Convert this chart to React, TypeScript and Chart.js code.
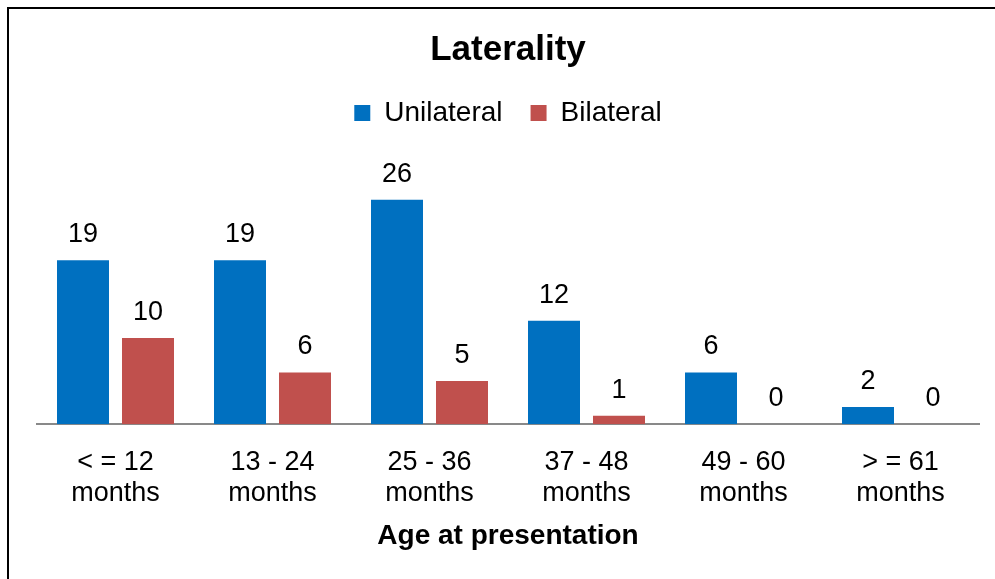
import React, { useEffect, useRef } from "react";
import { Chart, registerables } from "chart.js";

Chart.register(...registerables);

const categories: string[][] = [
  ["< = 12", "months"],
  ["13 - 24", "months"],
  ["25 - 36", "months"],
  ["37 - 48", "months"],
  ["49 - 60", "months"],
  ["> = 61", "months"],
];
const unilateral: number[] = [19, 19, 26, 12, 6, 2];
const bilateral: number[] = [10, 6, 5, 1, 0, 0];
const seriesNames: string[] = ["Unilateral", "Bilateral"];
const titleText = "Laterality";
const xAxisTitle = "Age at presentation";

const FONT = "'Liberation Sans', Arial, sans-serif";

const valueLabels = {
  id: "valueLabels",
  afterDatasetsDraw(chart: any) {
    const ctx = chart.ctx;
    ctx.save();
    ctx.font = `27px ${FONT}`;
    ctx.fillStyle = "#000";
    ctx.textAlign = "center";
    ctx.textBaseline = "alphabetic";
    chart.data.datasets.forEach((ds: any, i: number) => {
      const meta = chart.getDatasetMeta(i);
      meta.data.forEach((el: any, j: number) => {
        ctx.fillText(String(ds.data[j]), el.x, el.y - 18);
      });
    });
    ctx.restore();
  },
};

export default function App() {
  const ref = useRef<HTMLCanvasElement | null>(null);
  useEffect(() => {
    if (!ref.current) return;
    const chart = new Chart(ref.current, {
      type: "bar",
      data: {
        labels: categories,
        datasets: [
          {
            label: seriesNames[0],
            data: unilateral,
            backgroundColor: "#0070C0",
            categoryPercentage: 0.828,
            barPercentage: 0.8,
          },
          {
            label: seriesNames[1],
            data: bilateral,
            backgroundColor: "#C0504D",
            categoryPercentage: 0.828,
            barPercentage: 0.8,
          },
        ],
      },
      options: {
        responsive: false,
        animation: false,
        devicePixelRatio: 1,
        layout: { padding: { left: 28, right: 16, top: 8, bottom: 26 } },
        plugins: {
          title: {
            display: true,
            text: titleText,
            color: "#000",
            font: { family: FONT, size: 35, weight: "bold", lineHeight: 1.2 },
            padding: { top: 12, bottom: 0 },
          },
          legend: {
            display: true,
            labels: {
              color: "#000",
              font: { family: FONT, size: 28 },
              boxWidth: 16,
              boxHeight: 16,
              padding: 28,
            },
          },
          tooltip: { enabled: false },
        },
        scales: {
          x: {
            grid: { display: false, drawTicks: false },
            border: { display: true, color: "#898989", width: 2 },
            ticks: {
              color: "#000",
              font: { family: FONT, size: 27, lineHeight: 1.15 },
              padding: 23,
              maxRotation: 0,
              autoSkip: false,
            },
            title: {
              display: true,
              text: xAxisTitle,
              color: "#000",
              font: { family: FONT, size: 28, weight: "bold", lineHeight: 1.2 },
              padding: { top: -13, bottom: 0 },
            },
          },
          y: {
            display: false,
            min: 0,
            max: 33.27,
          },
        },
      },
      plugins: [valueLabels],
    });
    return () => chart.destroy();
  }, []);
  return (
    <div
      style={{
        position: "absolute",
        left: 7,
        top: 7,
        width: 1000,
        height: 600,
        border: "2px solid #000",
        background: "#fff",
        boxSizing: "border-box",
      }}
    >
      <canvas
        ref={ref}
        width={986}
        height={570}
        style={{ display: "block", width: 986, height: 570 }}
      />
    </div>
  );
}
